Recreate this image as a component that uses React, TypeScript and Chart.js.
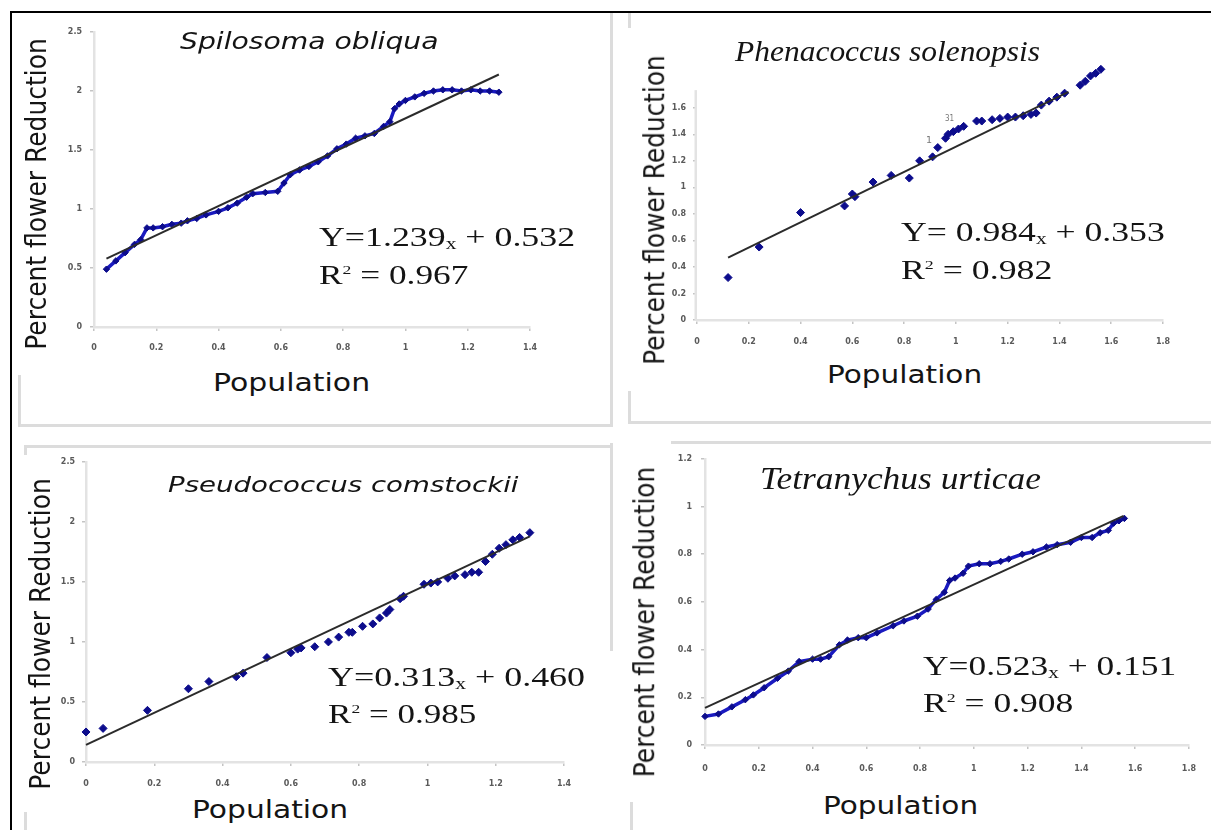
import React, { useEffect, useLayoutEffect, useRef, useState } from "react";
import { Chart, registerables } from "chart.js";
Chart.register(...registerables);

// ---------------- DATA ----------------
// Spilosoma obliqua
const spiloX = [0.04, 0.07, 0.1, 0.13, 0.15, 0.17, 0.19, 0.22, 0.25, 0.28, 0.3, 0.33, 0.36, 0.4, 0.43, 0.46, 0.49, 0.51, 0.55, 0.59, 0.61, 0.63, 0.66, 0.69, 0.72, 0.75, 0.78, 0.81, 0.84, 0.87, 0.9, 0.93, 0.95, 0.965, 0.98, 1.0, 1.03, 1.06, 1.09, 1.12, 1.15, 1.18, 1.21, 1.24, 1.27, 1.3];
const spiloY = [0.49, 0.56, 0.63, 0.7, 0.74, 0.84, 0.84, 0.85, 0.87, 0.88, 0.9, 0.92, 0.95, 0.98, 1.01, 1.05, 1.1, 1.13, 1.14, 1.15, 1.22, 1.29, 1.33, 1.36, 1.4, 1.45, 1.51, 1.55, 1.6, 1.62, 1.64, 1.7, 1.74, 1.85, 1.89, 1.92, 1.95, 1.98, 2.0, 2.01, 2.01, 2.0, 2.01, 2.0, 2.0, 1.99];
const spiloTrendX = [0.04, 1.3];
const spiloTrendY = [0.58, 2.14];
const spiloXTicks = [0, 0.2, 0.4, 0.6, 0.8, 1, 1.2, 1.4];
const spiloYTicks = [0, 0.5, 1, 1.5, 2, 2.5];

// Phenacoccus solenopsis
const phenX = [0.12, 0.24, 0.4, 0.57, 0.6, 0.61, 0.68, 0.75, 0.82, 0.86, 0.91, 0.93, 0.96, 0.97, 0.99, 1.01, 1.03, 1.08, 1.1, 1.14, 1.17, 1.2, 1.23, 1.26, 1.29, 1.31, 1.33, 1.36, 1.39, 1.42, 1.48, 1.5, 1.52, 1.54, 1.56];
const phenY = [0.32, 0.55, 0.81, 0.86, 0.95, 0.93, 1.04, 1.09, 1.07, 1.2, 1.23, 1.3, 1.37, 1.4, 1.42, 1.44, 1.46, 1.5, 1.5, 1.51, 1.52, 1.53, 1.53, 1.54, 1.55, 1.56, 1.62, 1.65, 1.68, 1.71, 1.77, 1.8, 1.84, 1.86, 1.89];
const phenTrendX = [0.12, 1.435];
const phenTrendY = [0.47, 1.72];
const phenXTicks = [0, 0.2, 0.4, 0.6, 0.8, 1, 1.2, 1.4, 1.6, 1.8];
const phenYTicks = [0, 0.2, 0.4, 0.6, 0.8, 1, 1.2, 1.4, 1.6];
const phenAxisTop = 1.733;

// Pseudococcus comstockii
const pseuX = [0.0, 0.05, 0.18, 0.3, 0.36, 0.44, 0.46, 0.53, 0.6, 0.62, 0.63, 0.67, 0.71, 0.74, 0.77, 0.78, 0.81, 0.84, 0.86, 0.88, 0.89, 0.92, 0.93, 0.99, 1.01, 1.03, 1.06, 1.08, 1.11, 1.13, 1.15, 1.17, 1.19, 1.21, 1.23, 1.25, 1.27, 1.3];
const pseuY = [0.25, 0.28, 0.43, 0.61, 0.67, 0.71, 0.74, 0.87, 0.91, 0.94, 0.95, 0.96, 1.0, 1.04, 1.08, 1.08, 1.13, 1.15, 1.2, 1.24, 1.27, 1.36, 1.38, 1.48, 1.49, 1.5, 1.53, 1.55, 1.56, 1.58, 1.58, 1.67, 1.73, 1.78, 1.81, 1.85, 1.87, 1.91];
const pseuTrendX = [0.0, 1.3];
const pseuTrendY = [0.143, 1.879];
const pseuXTicks = [0, 0.2, 0.4, 0.6, 0.8, 1, 1.2, 1.4];
const pseuYTicks = [0, 0.5, 1, 1.5, 2, 2.5];

// Tetranychus urticae
const tetrX = [0.0, 0.05, 0.1, 0.15, 0.18, 0.22, 0.27, 0.31, 0.35, 0.4, 0.43, 0.46, 0.5, 0.53, 0.57, 0.6, 0.64, 0.7, 0.74, 0.79, 0.83, 0.86, 0.89, 0.91, 0.93, 0.96, 0.98, 1.02, 1.06, 1.1, 1.13, 1.18, 1.22, 1.27, 1.31, 1.36, 1.4, 1.44, 1.47, 1.5, 1.52, 1.54, 1.56];
const tetrY = [0.12, 0.13, 0.16, 0.19, 0.21, 0.24, 0.28, 0.31, 0.35, 0.36, 0.36, 0.37, 0.42, 0.44, 0.45, 0.45, 0.47, 0.5, 0.52, 0.54, 0.57, 0.61, 0.64, 0.69, 0.7, 0.72, 0.75, 0.76, 0.76, 0.77, 0.78, 0.8, 0.81, 0.83, 0.84, 0.85, 0.87, 0.87, 0.89, 0.9, 0.93, 0.94, 0.95];
const tetrTrendX = [0.0, 1.557];
const tetrTrendY = [0.156, 0.961];
const tetrXTicks = [0, 0.2, 0.4, 0.6, 0.8, 1, 1.2, 1.4, 1.6, 1.8];
const tetrYTicks = [0, 0.2, 0.4, 0.6, 0.8, 1, 1.2];

// ---------------- COMPONENTS ----------------
const AXIS_COLOR = "#e3e3e3";
const AXIS_W = 2.5;

// draws the y-axis line only up to a given value (used when data rise above the last tick)
const axisLinePlugin = {
  id: "axisLine",
  beforeDatasetsDraw(chart: any, _args: any, opts: any) {
    if (!opts || opts.top == null) return;
    const ys = chart.scales.y;
    const ctx = chart.ctx;
    const x = chart.chartArea.left - AXIS_W / 2;
    ctx.save();
    ctx.strokeStyle = AXIS_COLOR;
    ctx.lineWidth = AXIS_W;
    ctx.beginPath();
    ctx.moveTo(x, ys.getPixelForValue(0) + 1);
    ctx.lineTo(x, ys.getPixelForValue(opts.top));
    ctx.stroke();
    ctx.restore();
  },
};

type Rect = { l: number; t: number; r: number; b: number };
type PanelProps = {
  left: number; top: number; width: number; height: number; plot: Rect;
  xMax: number; yMax: number; xTicks: number[]; yTicks: number[];
  sx: number[]; sy: number[]; tx: number[]; ty: number[];
  line: boolean; xPad: number; yPad: number; axisTop?: number;
};

const fmt = (v: any) => String(+Number(v).toFixed(2));

function ChartPanel(p: PanelProps) {
  const ref = useRef<HTMLCanvasElement>(null);
  useEffect(() => {
    if (!ref.current) return;
    const tickFont = { family: "DejaVu Sans", size: 8, weight: "bold" as const };
    const chart = new Chart(ref.current, {
      type: "scatter",
      plugins: [axisLinePlugin as any],
      data: {
        datasets: [
          {
            data: p.tx.map((v, i) => ({ x: v, y: p.ty[i] })),
            showLine: true,
            pointRadius: 0,
            borderColor: "#2b2b2b",
            borderWidth: 2,
            clip: false as any,
          },
          {
            data: p.sx.map((v, i) => ({ x: v, y: p.sy[i] })),
            showLine: p.line,
            borderColor: "#1a1ac0",
            borderWidth: 3.5,
            pointStyle: "rectRot",
            pointRadius: p.line ? 3.2 : 4,
            pointBackgroundColor: "#0c0c8c",
            pointBorderColor: "#0c0c8c",
            pointBorderWidth: 1,
            clip: false as any,
          },
        ],
      },
      options: {
        animation: false,
        responsive: false,
        devicePixelRatio: 1,
        layout: {
          padding: { left: 0, top: p.plot.t - p.top, right: p.left + p.width - p.plot.r, bottom: 0 },
        },
        plugins: {
          legend: { display: false },
          tooltip: { enabled: false },
          title: { display: false },
          axisLine: { top: p.axisTop ?? null },
        } as any,
        scales: {
          x: {
            type: "linear",
            min: 0,
            max: p.xMax,
            afterBuildTicks: (s: any) => { s.ticks = p.xTicks.map((v) => ({ value: v })); },
            afterFit: (s: any) => { s.height = p.top + p.height - p.plot.b; },
            grid: { drawOnChartArea: false, drawTicks: true, tickLength: 4, color: "#c4c4c4", lineWidth: 1.5 },
            border: { color: AXIS_COLOR, width: AXIS_W },
            ticks: { autoSkip: false, maxRotation: 0, padding: p.xPad, font: tickFont, color: "#5a5a5a", callback: fmt },
          },
          y: {
            type: "linear",
            min: 0,
            max: p.yMax,
            afterBuildTicks: (s: any) => { s.ticks = p.yTicks.map((v) => ({ value: v })); },
            afterFit: (s: any) => { s.width = p.plot.l - p.left; },
            grid: { drawOnChartArea: false, drawTicks: true, tickLength: 4, color: "#c4c4c4", lineWidth: 1.5 },
            border: { display: p.axisTop == null, color: AXIS_COLOR, width: AXIS_W },
            ticks: { autoSkip: false, padding: p.yPad, font: tickFont, color: "#5a5a5a", callback: fmt },
          },
        },
      },
    });
    return () => chart.destroy();
  }, []);
  return (
    <div style={{ position: "absolute", left: p.left, top: p.top, width: p.width, height: p.height }}>
      <canvas ref={ref} width={p.width} height={p.height} />
    </div>
  );
}

type TextProps = {
  x: number; y: number; w: number; size: number; family: string; italic?: boolean;
  color?: string; children: React.ReactNode;
};

// Horizontal text: left edge x, vertical centre y, stretched to width w
function HText({ x, y, w, size, family, italic, color, children }: TextProps) {
  const ref = useRef<HTMLSpanElement>(null);
  const [k, setK] = useState(1);
  useLayoutEffect(() => {
    if (ref.current && ref.current.offsetWidth > 0) setK(w / ref.current.offsetWidth);
  }, [w]);
  return (
    <span
      ref={ref}
      style={{
        position: "absolute", left: x, top: y, whiteSpace: "nowrap", lineHeight: 1,
        fontFamily: family, fontSize: size, fontStyle: italic ? "italic" : "normal",
        color: color || "#141414", transformOrigin: "left center",
        transform: `translateY(-50%) scaleX(${k})`,
      }}
    >
      {children}
    </span>
  );
}

// Vertical text: centre (x,y), length w along the vertical
function VText({ x, y, w, size, family, color, children, thick }: TextProps & { thick: number }) {
  const ref = useRef<HTMLSpanElement>(null);
  const [k, setK] = useState(1);
  useLayoutEffect(() => {
    if (ref.current && ref.current.offsetWidth > 0) setK(w / ref.current.offsetWidth);
  }, [w]);
  return (
    <span
      ref={ref}
      style={{
        position: "absolute", left: x, top: y, whiteSpace: "nowrap", lineHeight: 1,
        fontFamily: family, fontSize: size, color: color || "#141414",
        transform: `translate(-50%,-50%) rotate(-90deg) scale(${k}, ${thick})`,
      }}
    >
      {children}
    </span>
  );
}

const SANS = "'DejaVu Sans', Verdana, sans-serif";
const SERIF = "'Liberation Serif', 'Times New Roman', serif";

function Eq({ x, y1, y2, w1, w2, a, b, r }: { x: number; y1: number; y2: number; w1: number; w2: number; a: string; b: string; r: string }) {
  return (
    <>
      <HText x={x} y={y1} w={w1} size={27} family={SERIF}>
        {a}
        <span style={{ fontSize: "0.6em", verticalAlign: "-0.2em" }}>x</span>
        {" + " + b}
      </HText>
      <HText x={x} y={y2} w={w2} size={27} family={SERIF}>
        R<span style={{ fontSize: "0.5em", verticalAlign: "0.7em" }}>2</span>
        {" = " + r}
      </HText>
    </>
  );
}

function Line({ l, t, w, h, c }: { l: number; t: number; w: number; h: number; c: string }) {
  return <div style={{ position: "absolute", left: l, top: t, width: w, height: h, background: c }} />;
}

export default function App() {
  const G = "#dcdcdc";
  return (
    <div style={{ position: "fixed", left: 0, top: 0, width: 1211, height: 830, background: "#fff", overflow: "hidden" }}>
      {/* panel frames */}
      <Line l={610} t={12} w={3} h={415} c={G} />
      <Line l={18} t={424} w={595} h={3} c={G} />
      <Line l={18} t={375} w={3} h={52} c={G} />
      <Line l={628} t={13} w={3} h={15} c={G} />
      <Line l={628} t={391} w={3} h={33} c={G} />
      <Line l={628} t={421} w={583} h={3} c={G} />
      <Line l={24} t={445} w={589} h={3} c={G} />
      <Line l={610} t={443} w={3} h={208} c={G} />
      <Line l={24} t={445} w={3} h={10} c={G} />
      <Line l={24} t={812} w={3} h={18} c={G} />
      <Line l={671} t={441} w={540} h={3} c={G} />
      <Line l={630} t={802} w={3} h={28} c={G} />
      {/* outer black frame */}
      <Line l={10} t={11} w={1201} h={2} c="#000" />
      <Line l={10} t={11} w={2} h={819} c="#000" />

      <ChartPanel left={40} top={18} width={530} height={350} plot={{ l: 94, t: 32, r: 530, b: 327 }}
        xMax={1.4} yMax={2.5} xTicks={spiloXTicks} yTicks={spiloYTicks}
        sx={spiloX} sy={spiloY} tx={spiloTrendX} ty={spiloTrendY} line={true} xPad={12} yPad={8} />
      <ChartPanel left={650} top={40} width={545} height={320} plot={{ l: 697, t: 64, r: 1163, b: 320 }}
        xMax={1.8} yMax={1.93} xTicks={phenXTicks} yTicks={phenYTicks} axisTop={phenAxisTop}
        sx={phenX} sy={phenY} tx={phenTrendX} ty={phenTrendY} line={false} xPad={13} yPad={7} />
      <ChartPanel left={40} top={450} width={550} height={340} plot={{ l: 86, t: 460, r: 564, b: 762 }}
        xMax={1.4} yMax={2.5} xTicks={pseuXTicks} yTicks={pseuYTicks}
        sx={pseuX} sy={pseuY} tx={pseuTrendX} ty={pseuTrendY} line={false} xPad={13} yPad={7} />
      <ChartPanel left={660} top={445} width={551} height={335} plot={{ l: 705, t: 456, r: 1201, b: 745 }}
        xMax={1.8} yMax={1.2} xTicks={tetrXTicks} yTicks={tetrYTicks}
        sx={tetrX} sy={tetrY} tx={tetrTrendX} ty={tetrTrendY} line={true} xPad={15} yPad={9} />

      {/* titles */}
      <HText x={180} y={41} w={259} size={23} family={SANS} italic>Spilosoma obliqua</HText>
      <HText x={735} y={51} w={305} size={29} family={SERIF} italic>Phenacoccus solenopsis</HText>
      <HText x={168} y={485} w={350} size={22} family={SANS} italic>Pseudococcus comstockii</HText>
      <HText x={760} y={478} w={281} size={31} family={SERIF} italic>Tetranychus urticae</HText>

      {/* tiny point labels */}
      <HText x={945} y={119} w={9} size={8} family={SANS} color="#777">31</HText>
      <HText x={926} y={141} w={6} size={8} family={SANS} color="#777">1</HText>

      {/* equations */}
      <Eq x={319} y1={238} y2={275} w1={256} w2={149} a="Y=1.239" b="0.532" r="0.967" />
      <Eq x={901} y1={233} y2={270} w1={264} w2={151} a="Y= 0.984" b="0.353" r="0.982" />
      <Eq x={328} y1={678} y2={714} w1={257} w2={148} a="Y=0.313" b="0.460" r="0.985" />
      <Eq x={923} y1={667} y2={703} w1={253} w2={150} a="Y=0.523" b="0.151" r="0.908" />

      {/* x-axis titles */}
      <HText x={213} y={383} w={157} size={24} family={SANS}>Population</HText>
      <HText x={827} y={375} w={155} size={24} family={SANS}>Population</HText>
      <HText x={192} y={810} w={156} size={24} family={SANS}>Population</HText>
      <HText x={823} y={806} w={155} size={24} family={SANS}>Population</HText>

      {/* y-axis titles */}
      <VText x={36} y={194} w={312} size={24} family={SANS} thick={1.2}>Percent flower Reduction</VText>
      <VText x={655} y={210} w={310} size={24} family={SANS} thick={1.2}>Percent flower Reduction</VText>
      <VText x={40} y={634} w={312} size={24} family={SANS} thick={1.2}>Percent flower Reduction</VText>
      <VText x={645} y={622} w={311} size={24} family={SANS} thick={1.2}>Percent flower Reduction</VText>
    </div>
  );
}
